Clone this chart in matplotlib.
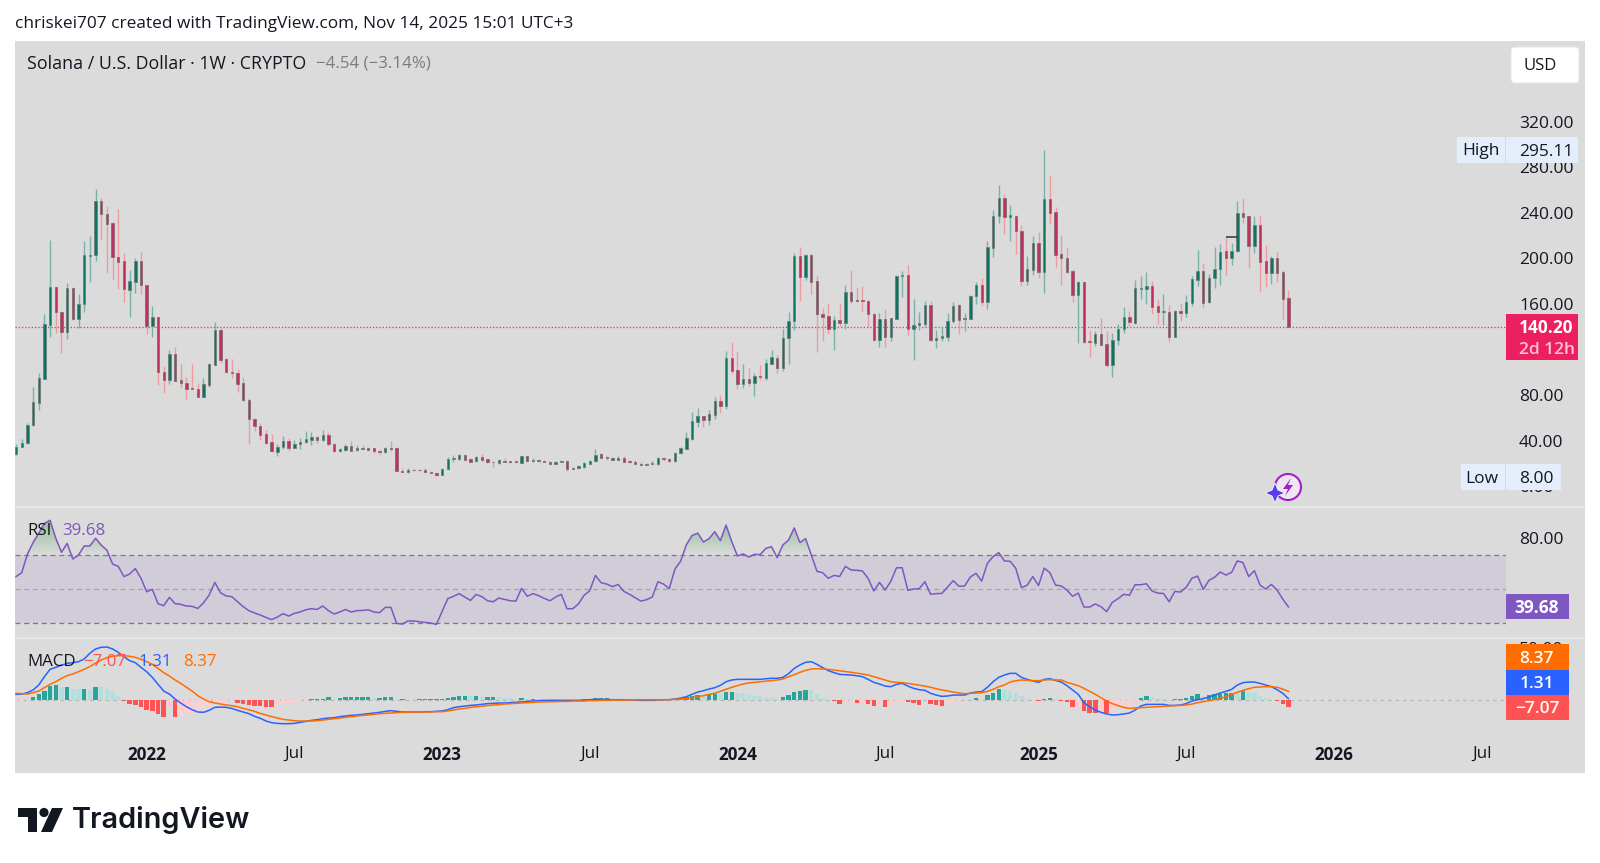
import numpy as np
import matplotlib
matplotlib.use("Agg")
import matplotlib.pyplot as plt
from matplotlib.path import Path
from matplotlib.patches import Rectangle, Polygon, Circle, FancyBboxPatch

plt.rcParams["font.family"] = ["Open Sans", "DejaVu Sans"]

# Velas semanales SOL/USD
opens = [28.4,34.8,37.7,53.6,73.4,94.5,141.8,174.6,153.2,135.7,
         173.7,147.1,160,202.1,202.7,250.3,238.9,231.3,201.2,197.4,
         172.5,179.6,198,176.6,141,148.3,100.3,93.6,116.1,93.3,
         91,86,85.4,78.7,88.6,106.7,137.2,111.7,100.3,99.7,
         90.4,75.8,59.4,53.2,45.6,38.6,30.4,34.8,39.8,33.9,
         37.2,38.6,40.7,43,40.7,45.1,37.2,30.7,31.9,35.7,
         31.6,33.6,33.6,33.3,31,29.8,33.3,33.3,13.8,12.3,
         14.7,14.6,14.4,12.9,11.7,10,15,23.7,24,27.2,
         24,22,25.8,23.7,21.7,20.5,22.3,22.3,22.3,20.8,
         26.4,22,23.1,22.5,21.7,19.9,21.7,22.5,15.5,15.8,
         17,19.6,22,28.1,25.5,23.4,23.4,24.9,22.3,21.7,
         19.9,19,19.6,19.3,24.9,24,22,29.3,33.1,41.6,
         56.5,61.7,58.2,62.9,75.2,70.8,112.9,101.8,89.8,93.9,
         91,96.5,95.4,107.6,112.9,103.9,129.9,145.1,202.1,183.7,
         203,180.2,151.5,149.4,138,145.9,143.6,170.2,163.5,163.2,
         162.6,151.5,128.4,146.5,131.3,147.1,184.5,185.4,137.7,141.5,
         142.7,159.4,128.4,129.9,131.3,144.8,159.1,146.5,147.1,167,
         176.6,162,209.4,237.2,253,236.6,237.5,224,180.4,189.8,
         213.8,188,252.4,240.7,203.8,200.3,188.9,167.8,179.3,127.5,
         126,133.6,124.9,106.4,128.4,137.7,148.6,143.6,173.4,173.4,
         175.7,157.9,152.6,153.2,131.3,153.8,152,161.1,181,188.6,
         161.4,182.8,190.6,206.2,200.6,206.4,239.8,236.9,210.8,229,
         197.4,187.4,200.3,188,164.9]
highs = [37.2,41.5,55.9,87.5,99.1,151.2,216.1,175.2,153.8,178.1,
         174.5,168.4,215.5,219.6,260.6,253.2,245.9,231.8,243,204.4,
         189.8,200.3,205.3,177,157.9,148.8,105.6,119.6,122.5,107,
         96.2,107,90.4,95.1,107.9,143.9,138.9,112.3,111.7,103.2,
         95.9,77.8,59.7,55.9,49.4,45.6,36.9,44.2,42.7,40.7,
         42.1,48.6,47.7,44.2,49.4,48,37.8,33.3,36.9,39.8,
         36.3,36,34.8,33.9,31.9,34.2,39.8,34.2,15.8,15.8,
         15.5,15.5,16.1,13.5,12.3,15.8,25.5,27.5,28.1,27.5,
         24.9,26.7,28.4,24.3,21.9,23.7,24.9,22.5,22.5,27,
         27,24.6,24,23.1,22.5,22,22.8,23.1,16.7,18.5,
         21.1,23.1,32.8,29.6,26.7,25.8,26.7,26.7,23.1,23.1,
         21.7,20.2,22,25.5,26.1,24.6,30.5,34.8,47.7,65.2,
         69.1,61.9,66.7,78.4,80.2,118.8,126.7,117.9,107.4,103.9,
         99.5,106.8,111.7,119.3,115.2,138.3,153.3,204.4,210.3,203.6,
         204.7,184.5,156.5,160.6,149.4,159.7,176.3,189.8,173.7,176,
         163.5,152.1,151.8,155.6,148,185.1,188.6,194.2,164.4,152.7,
         162.3,162.3,137.2,140.7,152.4,161.7,160.3,152.4,168.2,179,
         183.1,215.2,242.4,264.1,256.2,247.1,237.9,229,202.1,219.6,
         223.1,295.11,273.1,244.8,220.5,209.1,190.4,180.1,179.6,137.1,
         136.6,147.7,136.6,134.2,142.4,157.3,153.8,181,184.5,187.7,
         179.8,164,168.7,158.8,154.7,160.5,168.1,184.5,207,195.6,
         186.3,210,212.3,217.9,213.2,250,253.2,237.4,237.1,237.4,
         211.7,202.1,205.3,189.5,172.2]
lows = [27.5,34.2,37.2,52.9,67,93.9,130.7,134.8,116.7,129.3,
        145.9,138.6,153.2,179.6,198,217.3,187.5,181.9,173.4,162,
        148.9,169.3,168.4,133.9,130.7,88.9,82.2,89.8,92.1,86.6,
        76.6,85,78.5,78.5,87.5,106.2,108.5,99.4,95.3,82.5,
        75.2,37.2,48.6,40.7,36.9,30.4,26.6,32.8,31.3,33.3,
        32.8,38.3,36,38.3,40.1,35.4,30.4,30.4,31.3,31,
        31,32.5,31.9,29.6,28.4,29,31,12.9,12.3,11.7,
        13.8,13.8,12.3,11.4,9.4,9.7,14.4,21.1,23.4,23.1,
        21.1,21.4,22.5,20.8,17,19.6,21.1,20.5,20.8,20.2,
        21.4,21.4,21.7,21.1,19.3,19.3,21.1,13.8,15.2,15.2,
        16.4,19.3,21.7,24.6,23.1,23.1,23.1,21.1,20.5,19.3,
        18.5,18.5,19.3,19,22.5,21.7,21.7,28.7,32.8,41,
        52.4,52.4,53.8,59.1,64.4,67.6,98.6,85.4,86.6,88.1,
        79.6,93.3,93.3,107,99.2,101.5,107.6,137.5,162.6,181,
        168.5,117.9,127.8,133.9,119.6,140.7,138,161.1,162,154.1,
        140.1,127.8,122.5,122,127.5,146.5,166.4,132.2,110.8,137.2,
        139.5,127.8,121.4,127.8,127.8,143,133.7,136.3,146.8,160,
        158.2,155.6,201.5,230.7,221.7,215.5,204.1,175.8,176.6,185.4,
        182.5,169.9,229.9,192.7,176.9,187.5,161.4,126,126,113.2,
        123.1,123.7,104.7,96.2,124,134.8,140.9,142.4,164.3,159.7,
        151.2,142.4,141.5,126.6,131,145.3,148.6,158.2,176,156.4,
        161.1,174,176.3,185.7,194.5,205.9,230.7,191.2,205,170.8,
        174.9,177.8,179.5,146.5,139.5]
closes = [34.8,38.3,53.8,73.7,94.8,142.1,174.6,152.9,135.7,173.7,
          147.1,160,202.7,202.7,250.3,238.6,230.1,200.9,197.1,173.4,
          179.8,198,176.6,141,148.3,100.3,93.6,116.1,92.7,90.4,
          85.7,85.1,78.7,89.5,107.6,137.2,110.8,100,99.1,89.8,
          75.8,59.4,52.7,45.1,38.3,30.7,34.8,39.8,33.6,37.2,
          38.6,41.3,43,40.7,45.1,37.2,30.7,32.5,35.7,31.3,
          33.3,33,32.2,30.7,30.1,33.3,32.8,13.5,12.6,14.4,
          14.1,14.1,12.6,12,10,15.2,24,24.9,27.2,23.4,
          21.7,25.8,23.1,21.4,21.1,22.9,21.4,21.1,21.4,26.4,
          22,23.1,22.3,21.4,19.9,21.7,22.5,15.5,16.1,17.9,
          20.2,22.5,27.8,25.2,24.9,24.9,24.9,21.7,21.1,19.6,
          19,19.6,20.8,24.6,24,22,29.3,33.7,42.1,57.1,
          61.4,58.2,63.2,74.9,70.8,112.9,101.5,89.8,93.9,91,
          96.5,96,107.9,113.2,103.9,130.5,145.4,202.1,183.4,203,
          179.6,151.2,148.9,138,145.9,143.6,170.2,162.6,162.6,162.3,
          151.2,128.4,146.5,131.3,147.4,184.8,185.4,137.7,141.8,143,
          159.4,128.4,130.1,131.6,145.1,158.5,146.2,147.4,167.3,176.6,
          162,209.7,237.5,253,236.3,237.7,223.7,180.1,190.4,213.8,
          188,252.4,240.1,203.2,200,188,167.8,179,126.6,126.9,
          133.6,124.3,106.4,128.7,138,148.6,143.9,173.7,174,175.7,
          157.3,152.9,153.5,131.3,153.8,151.8,161.4,181.6,188.6,161.1,
          183.1,190.9,205.9,200.6,206.7,239.8,236.3,211.1,229,196.8,
          187.4,200.3,187.4,164.6,140.2]

rsi = [57.5,59.8,70.6,77.5,82.9,88.8,90.6,80,71.8,77,
       67.8,70.2,75.5,75.5,80,76,73,64.9,63.5,57.5,
       59,62.2,56.5,48.6,50,41.6,40.4,45.3,41.6,41.2,
       40.2,40,38.8,42,46.7,54.1,48,46.1,45.7,42.7,
       39.8,37.5,36.1,34.9,33.5,32.2,33.7,35.7,34.3,35.9,
       36.7,38,38.6,38.2,40.2,37.5,35.5,36.7,38.2,36.7,
       37.5,37.6,38,36.7,36.3,39.4,39.4,30,29.6,31.4,
       31.4,31,30.6,30.2,29.4,36.9,44.5,45.9,47.5,45.5,
       43.5,47,45.7,43.3,42.7,44.9,44.1,43.3,43.1,50.6,
       45.9,47.5,46.3,44.7,43.3,45.5,47.1,38.6,38.6,41.4,
       46.5,49.2,58.2,53.9,53.1,51.6,52.9,48.8,47.1,45.1,
       43.1,43.9,45.5,54.5,53.1,50.4,62,66.5,76.1,81.6,
       83.1,77.8,79.8,83.9,78.6,87.8,78,69.6,70.8,69,
       70.6,70.4,74.1,75.1,68.6,76.1,79,86.1,77.5,79.8,
       70.2,60.6,59.8,56.5,58.2,57.6,63.5,61.4,61.2,60.8,
       56.5,49,54.1,49.6,54.7,62.7,62.7,49.4,50.2,50.4,
       54.5,47.1,47.5,47.6,51.4,55.1,51.8,52,57.3,59.4,
       54.9,65.3,69.2,71.6,66.7,66.5,62.4,51,52.4,57.5,
       52.2,62.5,59.8,52.5,52,49.6,45.9,47.8,39.6,39.6,
       41.4,39.8,36.9,42.4,44.5,47.1,46.5,52.7,52.7,53.3,
       49,47.8,47.6,42.7,48.8,48.4,51.2,56.5,57.8,50,
       55.3,57.1,60.2,58.4,60,66.7,65.7,57.5,61,52.5,
       50.2,52.9,49.6,44.3,39.68]

macd_line = [5.5,5.8,7.1,9.7,14.5,22.6,29.7,31.6,33.5,35.5,
             36.1,37.1,39.7,45.2,49.4,51,51.3,49.4,46.1,41.9,
             38.1,36.1,31.6,27.4,21.9,15.2,8.7,5.8,1,-2.9,
             -6.5,-9.4,-11.6,-11.9,-10,-7.1,-6.8,-7.1,-8.1,-10,
             -11.6,-13.2,-15.8,-17.7,-20.3,-21.9,-22.6,-22.9,-22.9,-22.6,
             -21.6,-20.6,-19.7,-19,-18.1,-17.4,-17.1,-16.1,-15.5,-14.8,
             -14.5,-13.9,-13.2,-12.6,-11.9,-11,-10.3,-11,-11.6,-11.6,
             -11.6,-11.6,-11.3,-11.3,-11,-10.6,-9.4,-7.4,-6.5,-5.8,
             -5.2,-4.8,-4.2,-3.5,-3.2,-2.9,-2.9,-2.6,-2.3,-1.9,
             -1.3,-1,-0.6,-0.3,-0.3,-0.3,-0.3,-0.3,-0.3,-0.3,
             0,0.3,0.6,0.6,0.6,0.3,0.3,0.3,0,0,
             -0.3,-0.3,-0.3,0,0.3,0.3,1,1.9,3.2,5.5,
             7.7,9,10.6,11.9,14.2,17.7,19.4,20,20,20,
             20,20,20.6,21,21,21.9,25.5,30.6,33.9,36.5,
             37.1,34.5,31.3,28.4,26.5,24.8,24.5,24.2,23.5,22.6,
             20,17.1,15.5,13.5,12.9,15.2,16.1,13.5,11.3,10,
             9.4,6.5,4.8,3.5,3.9,4.8,4.8,4.8,6.8,7.7,
             8.1,12.3,17.7,21.9,24.2,25.8,25.8,21.9,20,18.4,
             17.1,20,20.6,19,17.4,13.9,9.7,5.5,-2.6,-6.5,
             -9.7,-11.9,-13.5,-14.5,-14.2,-13.5,-12.6,-9.7,-5.8,-4.2,
             -4.2,-4.2,-4.2,-5.2,-5.2,-4.8,-3.5,-1,0.3,1.3,
             2.9,4.8,6.8,8.4,10.3,14.5,16.8,17.4,17.4,16.1,
             14.5,12.9,10,6.5,1.31]
signal_line = [6.5,6.1,5.8,7.1,8.7,11.9,15.2,17.7,21,23.5,
               25.2,27.4,29.7,32.3,35.8,38.7,41,42.3,42.9,42.9,
               42.3,41.3,39.4,37.1,34.5,30.6,26.5,23.2,19.4,16.1,
               12.3,8.7,4.2,1,-1.6,-2.9,-3.9,-4.8,-5.5,-6.5,
               -8.1,-9.4,-11,-12.9,-14.5,-16.1,-17.4,-18.7,-19.4,-20,
               -20.3,-20.3,-20.3,-20,-19.4,-18.7,-18.1,-17.4,-16.8,-16.1,
               -15.5,-14.8,-14.5,-13.9,-13.2,-12.9,-12.6,-12.3,-11.9,-11.9,
               -11.6,-11.6,-11.6,-11.6,-11.3,-11.3,-10.6,-9.7,-8.7,-8.1,
               -7.1,-6.5,-5.8,-5.2,-4.8,-4.5,-3.9,-3.5,-3.2,-2.9,
               -2.6,-2.3,-1.9,-1.9,-1.6,-1.6,-1.3,-1.3,-1,-1,
               -1,-0.6,-0.6,-0.3,-0.3,0,0,0,0,0.3,
               0.3,0.3,0.3,0.3,0.3,0.3,0.6,1,1.6,2.3,
               3.2,4.2,5.5,6.5,8.4,10.3,12.3,13.9,15.5,16.5,
               17.1,17.7,18.4,19,19.4,20.3,22.6,24.5,26.8,28.7,
               30,30.3,30,29.7,29,28.4,27.7,26.8,26.1,25.2,
               24.2,22.6,21,19.4,17.7,17.1,16.8,16.1,15.2,14.2,
               13.5,12.3,11,9.7,8.7,7.7,6.8,6.1,6.5,6.8,
               7.1,8.4,10.3,12.9,14.5,17.4,18.7,19.4,19,18.7,
               18.7,19.4,19.7,19.4,19.4,17.1,15.5,13.9,11.3,8.4,
               5.5,2.3,-1,-3.5,-5.5,-7.1,-8.1,-7.7,-7.4,-7.1,
               -6.8,-6.5,-6.1,-5.8,-5.5,-5.2,-4.8,-3.9,-2.6,-1.6,
               -0.6,0.3,1.6,3.2,5.5,7.4,9.4,11,12.3,12.6,
               12.9,12.9,12.3,10.6,8.37]
histogram = [-1,-0.5,-0.4,2.6,5.8,9,13.5,14.5,12.3,12.6,
             11,10.3,10.6,10.3,12.6,12.3,10.3,8,3.9,-0.9,
             -3.5,-4.5,-6.5,-9.7,-10.6,-13.9,-16.5,-8,-16.5,-15.2,
             -13.9,-12.9,-11.3,-8.7,-6.5,-3.9,-2.6,-1.6,-1,-2.9,
             -3.5,-4.8,-5.8,-6.1,-6.5,-7.1,-4.8,-3.2,-2.6,-1.6,
             -1.3,-0.6,0.6,0.6,1.3,2.6,1.3,1.6,2.6,2.6,
             2.6,2.6,2.6,2.3,2.3,2.6,2.6,0.6,1,0.3,
             0.3,0.6,0.6,0.6,0.6,1,1.6,2.9,3.9,3.9,
             3.5,3.9,2.9,2.9,2.9,2.6,2.3,1.6,0.3,1.9,
             1,1,0.6,0.3,0.3,0.3,0.3,-0.3,-0.3,0,
             1,1,1.9,1.9,1.9,1,0.6,0.3,0,-0.3,
             -0.6,-0.6,-0.6,-0.3,0,0.3,0.3,1,2.6,4.2,
             4.5,3.9,5.5,6.1,5.5,8.1,8.1,7.1,6.5,4.8,
             4.2,3.5,2.9,2.3,1.3,2.9,4.8,7.7,8.7,9.7,
             9.4,5.8,2.3,0,-1,-3.5,-1,-0.6,-2.6,-2.6,
             -3.5,-5.5,-5.5,-6.5,-4.8,-0.6,-0.6,-2.3,-3.2,-4.5,
             -0.3,-4.2,-5.2,-5.5,-3.2,-1.6,-1,-0.3,-0.1,1.6,
             0,4.8,6.8,10.6,10,9,7.1,3.9,1,0.3,
             -1,1,1.9,0.6,-1,-2.3,-6.5,-6.5,-10.6,-12.3,
             -12.6,-11,-12.3,-9.7,-8,-7.4,-6.5,-1,1.9,3.9,
             2.6,2.3,1.3,0.3,1,1,1.9,3.9,5.5,3.5,
             4.8,5.5,5.8,6.5,6.8,6.5,8.4,7.1,6.8,4.2,
             1.6,0.3,-0.6,-3.5,-7.07]

price_ticks = [320, 280, 240, 200, 160, 80, 40, 0]
rsi_ticks = [80]
macd_ticks = [50]
time_ticks = [23, 49, 75, 101, 127, 153, 180, 206, 232, 258]
time_labels = ["2022", "Jul", "2023", "Jul", "2024", "Jul", "2025", "Jul", "2026", "Jul"]
year_labels = {"2022", "2023", "2024", "2025", "2026"}

last_price = 140.20
high_price = 295.11
low_price = 8.00
drawn_level = 218.4
drawn_from, drawn_to = 213, 215

W, H = 1600, 863
PANEL = "#dbdbdb"
GREEN_BODY, GREEN_EDGE, GREEN_WICK = "#0c7561", "#6f8582", "#79b3a5"
RED_BODY, RED_EDGE, RED_WICK = "#c42f60", "#8d7078", "#ee9ba0"
PURPLE = "#7e57c2"
BLUE = "#2962ff"
ORANGE = "#ff6d00"
HIST_RED = "#ff5252"
TXT = "#131722"


def caja(x0, y0, x1, y1):
    """Ejes ubicados con coordenadas en pixeles de la imagen."""
    return fig.add_axes([x0 / W, 1 - y1 / H, (x1 - x0) / W, (y1 - y0) / H])


def limpiar(ax, ticks, fmt="{:.2f}"):
    ax.patch.set_visible(False)
    for s in ax.spines.values():
        s.set_visible(False)
    ax.yaxis.tick_right()
    ax.set_yticks(ticks)
    ax.set_yticklabels([fmt.format(t) for t in ticks], fontsize=12.5, color=TXT)
    ax.tick_params(axis="y", length=0, pad=9.4)
    ax.tick_params(axis="x", length=0)
    ax.set_xticks([])
    ax.set_xlim(-0.18, 262.3)


def y_px(ax, valor):
    return H - ax.transData.transform((0, valor))[1]


fig = plt.figure(figsize=(W / 100, H / 100), dpi=100, facecolor="white")
fig.patches.append(Rectangle((15 / W, 1 - 773 / H), 1570 / W, 732 / H, transform=fig.transFigure,
                             facecolor=PANEL, edgecolor="none", zorder=-5))

x = np.arange(len(closes))
o, h, l, c = map(np.array, (opens, highs, lows, closes))
up = c >= o

# Panel de precio
ax = caja(15, 41, 1506, 506)
limpiar(ax, price_ticks)
ax.set_ylim(-17.2, 390.7)
ax.vlines(x, l, h, colors=[GREEN_WICK if u else RED_WICK for u in up], lw=1.0, zorder=2)
ax.bar(x, np.abs(c - o), bottom=np.minimum(o, c), width=0.42,
       color=[GREEN_BODY if u else RED_BODY for u in up],
       edgecolor=[GREEN_EDGE if u else RED_EDGE for u in up], lw=0.7, zorder=3)
ax.axhline(last_price, color="#f0286a", ls=(0, (1, 1.6)), lw=0.9, zorder=1)
ax.hlines(drawn_level, drawn_from, drawn_to, color="#333333", lw=1.1, zorder=4)

# Panel RSI
ax_rsi = caja(15, 507, 1506, 637)
limpiar(ax_rsi, rsi_ticks)
ax_rsi.set_ylim(22, 98.4)
ax_rsi.axhspan(30, 70, color=PURPLE, alpha=0.1, lw=0, zorder=1)
for nivel, col in ((70, "#787b86"), (50, "#a3a3ad"), (30, "#787b86")):
    ax_rsi.axhline(nivel, color=col, ls=(0, (4, 3)), lw=0.9, zorder=2)
rsi_arr = np.array(rsi)
relleno = ax_rsi.fill_between(x, 70, rsi_arr, where=rsi_arr >= 70, interpolate=True,
                              facecolor="none", edgecolor="none")
grad = np.zeros((64, 2, 4))
grad[..., 0], grad[..., 1], grad[..., 2] = 0.25, 0.62, 0.3
grad[..., 3] = np.repeat(np.linspace(0.5, 0.0, 64)[:, None], 2, axis=1)
img = ax_rsi.imshow(grad, extent=[x[0], x[-1], 70, rsi_arr.max()], aspect="auto", zorder=3)
img.set_clip_path(Path.make_compound_path(*relleno.get_paths()), transform=ax_rsi.transData)
ax_rsi.set_xlim(-0.18, 262.3)
ax_rsi.set_ylim(22, 98.4)
ax_rsi.plot(x, rsi, color=PURPLE, lw=1.1, zorder=4)

# Panel MACD (incluye la franja del eje de tiempo)
ax_m = caja(15, 638, 1506, 773)
limpiar(ax_m, macd_ticks)
ax_m.set_ylim(-70.6, 60)
hist = np.array(histogram)
prev = np.r_[hist[0], hist[:-1]]
colores = []
for v, p in zip(hist, prev):
    if v >= 0:
        colores.append("#26a69a" if v >= p else "#b2dfdb")
    else:
        colores.append("#ffcdd2" if v >= p else HIST_RED)
ax_m.axhline(0, color="#b8b8b8", ls=(0, (3, 3)), lw=0.9, zorder=1)
ax_m.bar(x, hist, width=0.78, color=colores, lw=0, zorder=2)
ax_m.plot(x, macd_line, color=BLUE, lw=1.1, zorder=3)
ax_m.plot(x, signal_line, color=ORANGE, lw=1.1, zorder=4)
ax_m.set_xticks(time_ticks)
ax_m.set_xticklabels(time_labels, fontsize=12.3, color=TXT)
ax_m.tick_params(axis="x", length=0, pad=-19.3)
for t in ax_m.get_xticklabels():
    if t.get_text() in year_labels:
        t.set_fontweight("bold")

# Capa en pixeles para etiquetas, logo y separadores
ov = fig.add_axes([0, 0, 1, 1], zorder=10)
ov.set_xlim(0, W)
ov.set_ylim(H, 0)
ov.axis("off")
for ysep in (506.5, 637.5):
    ov.plot([15, 1585], [ysep, ysep], color="#e6e6e6", lw=1.4)


def tag(x0, x1, y0, y1, col):
    ov.add_patch(Rectangle((x0, y0), x1 - x0, y1 - y0, facecolor=col, edgecolor="none"))


ov.text(15, 24.5, "chriskei707 created with TradingView.com, Nov 14, 2025 15:01 UTC+3",
        fontsize=12.45, color=TXT, va="center")
ov.text(27, 64, "Solana / U.S. Dollar · 1W · CRYPTO", fontsize=12.8, color=TXT, va="center")
ov.text(316, 64, "−4.54 (−3.14%)", fontsize=12.2, color="#787b86", va="center")

ov.add_patch(FancyBboxPatch((1511, 47), 68, 36, boxstyle="round,pad=0,rounding_size=4",
                            facecolor="white", edgecolor="#e6e6e6", lw=0.8))
ov.text(1540, 66, "USD", fontsize=12, color=TXT, ha="center", va="center")

# Etiquetas High / Low
yh = y_px(ax, high_price)
tag(1457, 1578, yh - 13, yh + 13, "#e3eefa")
ov.plot([1505, 1505], [yh - 13, yh + 13], color="#d2dce6", lw=0.7)
ov.text(1481, yh + 1, "High", fontsize=12.5, color=TXT, ha="center", va="center")
ov.text(1519, yh + 2.5, f"{high_price:.2f}", fontsize=12.5, color=TXT, va="center")
yl = y_px(ax, low_price)
tag(1461, 1561, yl - 13, yl + 13, "#e3eefa")
ov.plot([1505, 1505], [yl - 13, yl + 13], color="#d2dce6", lw=0.7)
ov.text(1482, yl + 1.5, "Low", fontsize=12.5, color=TXT, ha="center", va="center")
ov.text(1536, yl + 1.5, f"{low_price:.2f}", fontsize=12.5, color=TXT, ha="center", va="center")

# Ultimo precio
yp = y_px(ax, last_price)
tag(1506, 1578, yp - 13, yp + 33, "#ec1f60")
ov.text(1519, yp + 1, f"{last_price:.2f}", fontsize=12.5, color="white", fontweight="bold", va="center")
ov.text(1519, yp + 23, "2d 12h", fontsize=12.5, color="#ffc4d6", fontweight="semibold", va="center")

# Etiquetas RSI y MACD
yr = y_px(ax_rsi, rsi[-1])
tag(1506, 1569, yr - 13, yr + 12, PURPLE)
ov.text(1537, yr + 1.5, f"{rsi[-1]:.2f}", fontsize=12.5, color="white", fontweight="bold", ha="center", va="center")
tag(1506, 1569, 644, 670, ORANGE)
ov.text(1537, 658.5, f"{signal_line[-1]:.2f}", fontsize=12.5, color="white", fontweight="semibold", ha="center", va="center")
tag(1506, 1569, 670, 695, BLUE)
ov.text(1537, 684, f"{macd_line[-1]:.2f}", fontsize=12.5, color="white", fontweight="semibold", ha="center", va="center")
tag(1506, 1569, 695, 720, HIST_RED)
ov.text(1537, 709, f"−{abs(histogram[-1]):.2f}", fontsize=12.5, color="white", fontweight="semibold", ha="center", va="center")

# Leyendas de los indicadores
ov.text(27, 531, "RSI", fontsize=12.2, color=TXT, va="center")
ov.text(62, 531, f"{rsi[-1]:.2f}", fontsize=12.2, color=PURPLE, va="center")
ov.text(27, 662, "MACD", fontsize=12.2, color=TXT, va="center")
ov.text(83, 662, f"−{abs(histogram[-1]):.2f}", fontsize=12.2, color=HIST_RED, va="center")
ov.text(138, 662, f"{macd_line[-1]:.2f}", fontsize=12.2, color=BLUE, va="center")
ov.text(183, 662, f"{signal_line[-1]:.2f}", fontsize=12.2, color=ORANGE, va="center")

# Icono del rayo
ov.add_patch(Circle((1288, 487), 13, facecolor="#efe6f4", edgecolor="#a31fc4", lw=1.5))
ov.add_patch(Polygon([(1291, 478), (1283, 489), (1288, 489), (1285, 496), (1293, 485), (1288, 485)],
                     facecolor="#a31fc4", edgecolor="none"))
ov.add_patch(Polygon([(1275, 483), (1278, 490), (1285, 493), (1278, 496), (1275, 503),
                      (1272, 496), (1265, 493), (1272, 490)],
                     facecolor="#5b3df0", edgecolor="white", lw=0.6))

# Logo TradingView
ov.add_patch(Polygon([(18, 808), (37, 808), (37, 832), (27.5, 832), (27.5, 817), (18, 817)],
                     facecolor="#131722", edgecolor="none"))
ov.add_patch(Circle((44, 812.5), 4.6, facecolor="#131722", edgecolor="none"))
ov.add_patch(Polygon([(52, 808), (63, 808), (52, 832), (41, 832)], facecolor="#131722", edgecolor="none"))
ov.text(72, 820, "TradingView", fontsize=20.8, color="#131722", fontweight="semibold",
        family=["Inter", "DejaVu Sans"], va="center")

fig.savefig("out.png", dpi=100)
